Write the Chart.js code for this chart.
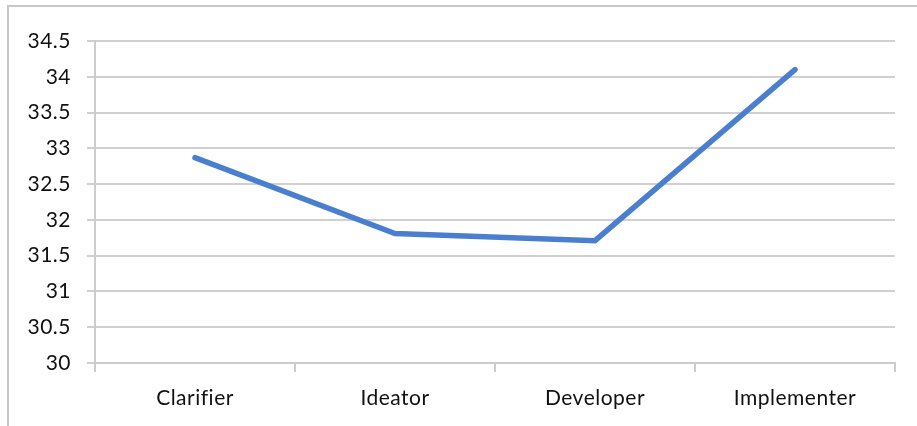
<!DOCTYPE html>
<html>
<head>
<meta charset="utf-8">
<script src="https://cdn.jsdelivr.net/npm/chart.js@4"></script>
<style>
  html, body { margin: 0; padding: 0; background: #fff; }
  #wrap { position: relative; width: 917px; height: 426px; overflow: hidden; }
  #frame { position: absolute; left: 7px; top: 5px; width: 1000px; height: 500px;
           border-top: 2px solid #c8c8c8; border-left: 2px solid #c8c8c8; }
  canvas { position: absolute; left: 0; top: 0; }
</style>
</head>
<body>
<div id="wrap">
  <div id="frame"></div>
  <canvas id="chart" width="917" height="426"></canvas>
</div>
<script>
// Average score per profile
const categories = ['Clarifier', 'Ideator', 'Developer', 'Implementer'];
const scores = [32.87, 31.81, 31.71, 34.1];
const yMin = 30;
const yMax = 34.5;
const yStep = 0.5;

const fontFamily = 'Lato, "Open Sans", sans-serif';

// Slight letter spacing keeps labels as separate glyphs (no "fi" ligature)
const spacingPlugin = {
  id: 'labelSpacing',
  beforeInit(chart) { chart.ctx.letterSpacing = '0.5px'; },
  beforeLayout(chart) { chart.ctx.letterSpacing = '0.5px'; },
  beforeDraw(chart) { chart.ctx.letterSpacing = '0.5px'; }
};

new Chart(document.getElementById('chart'), {
  type: 'line',
  data: {
    labels: categories,
    datasets: [{
      data: scores,
      borderColor: '#4a7fd0',
      borderWidth: 5.5,
      borderCapStyle: 'round',
      borderJoinStyle: 'miter',
      pointRadius: 0,
      tension: 0,
      fill: false
    }]
  },
  plugins: [spacingPlugin],
  options: {
    responsive: false,
    animation: false,
    plugins: { legend: { display: false }, tooltip: { enabled: false } },
    layout: { padding: { top: 41, right: 22, left: 0, bottom: 0 } },
    scales: {
      x: {
        offset: true,
        grid: {
          offset: true,
          drawOnChartArea: false,
          drawTicks: true,
          tickLength: 9,
          color: '#cccccc',
          lineWidth: 2
        },
        border: { display: true, color: '#cccccc', width: 2 },
        ticks: { color: '#111', padding: 14, font: { family: fontFamily, size: 21 } },
        afterFit(scale) { scale.height = 63; }
      },
      y: {
        min: yMin,
        max: yMax,
        grid: { color: '#d0d0d0', lineWidth: 2, tickLength: 8 },
        border: { display: true, color: '#cccccc', width: 2 },
        ticks: {
          stepSize: yStep,
          color: '#111',
          padding: 16,
          font: { family: fontFamily, size: 21 },
          callback: v => String(v)
        },
        afterFit(scale) { scale.width = 95; }
      }
    }
  }
});
</script>
</body>
</html>
